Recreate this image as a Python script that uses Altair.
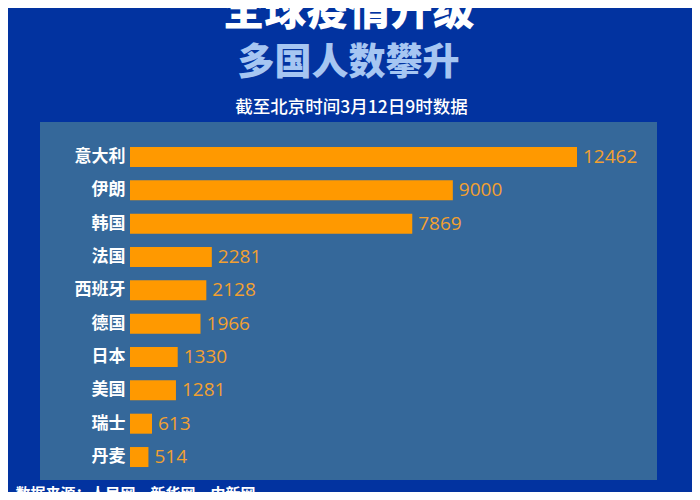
import altair as alt
import pandas as pd

countries = ["意大利", "伊朗", "韩国", "法国", "西班牙", "德国", "日本", "美国", "瑞士", "丹麦"]
cases = [12462, 9000, 7869, 2281, 2128, 1966, 1330, 1281, 613, 514]

title_text = "全球疫情升级"
subtitle_text = "多国人数攀升"
date_text = "截至北京时间3月12日9时数据"
source_text = "数据来源：人民网、新华网、中新网"

df = pd.DataFrame({"country": countries, "cases": cases})

CJK = "Noto Sans CJK SC"

x_scale = alt.Scale(domain=[-2509, 14692], nice=False, zero=False)
y_scale = alt.Scale(range=[18.3, 351.7], paddingInner=0.4, paddingOuter=0.2)

y_axis = alt.Axis(
    orient="left",
    offset=-90,
    labelPadding=5,
    domain=False,
    ticks=False,
    grid=False,
    title=None,
    labelColor="white",
    labelFont=CJK,
    labelFontSize=17,
    labelFontWeight="bold",
)

bars = alt.Chart(df).mark_bar(color="#ff9900").encode(
    x=alt.X(
        "cases:Q",
        scale=x_scale,
        axis=alt.Axis(
            orient="top",
            labels=False,
            ticks=False,
            domain=False,
            grid=False,
            title=date_text,
            titleColor="white",
            titleFont=CJK,
            titleFontSize=17.5,
            titleFontWeight=500,
            titleX=311,
            titleY=-15,
            titleAlign="center",
            titleBaseline="middle",
        ),
    ),
    y=alt.Y("country:N", sort=countries, scale=y_scale, axis=y_axis),
)

labels = alt.Chart(df).mark_text(
    align="left", baseline="middle", dx=6, color="#f2a030",
    font="Open Sans", fontSize=19, fontWeight=500
).encode(
    x=alt.X(
        "cases:Q",
        scale=x_scale,
        axis=alt.Axis(
            orient="bottom",
            labels=False,
            ticks=False,
            domain=False,
            grid=False,
            title=source_text,
            titleColor="white",
            titleFont=CJK,
            titleFontSize=15,
            titleFontWeight="bold",
            titleX=-25,
            titleY=13,
            titleAlign="left",
            titleBaseline="middle",
        ),
    ),
    y=alt.Y("country:N", sort=countries, scale=y_scale, axis=y_axis),
    text="cases:Q",
)

chart = alt.layer(bars, labels).resolve_axis(x="independent").properties(
    width=617,
    height=358,
    background="#0233a0",
    autosize=alt.AutoSizeParams(type="none"),
    padding={"left": 32, "top": 114, "right": 35, "bottom": 12},
    title=alt.TitleParams(
        text=title_text,
        subtitle=subtitle_text,
        anchor="middle",
        frame="group",
        color="white",
        font=CJK,
        fontSize=42,
        fontWeight=900,
        subtitleColor="#a6c6f2",
        subtitleFont=CJK,
        subtitleFontSize=37,
        subtitleFontWeight=900,
        subtitlePadding=12,
        offset=15,
    ),
).configure_view(fill="#35689a", stroke=None)

chart.save("out.html", embed_options={"renderer": "svg", "actions": False})
